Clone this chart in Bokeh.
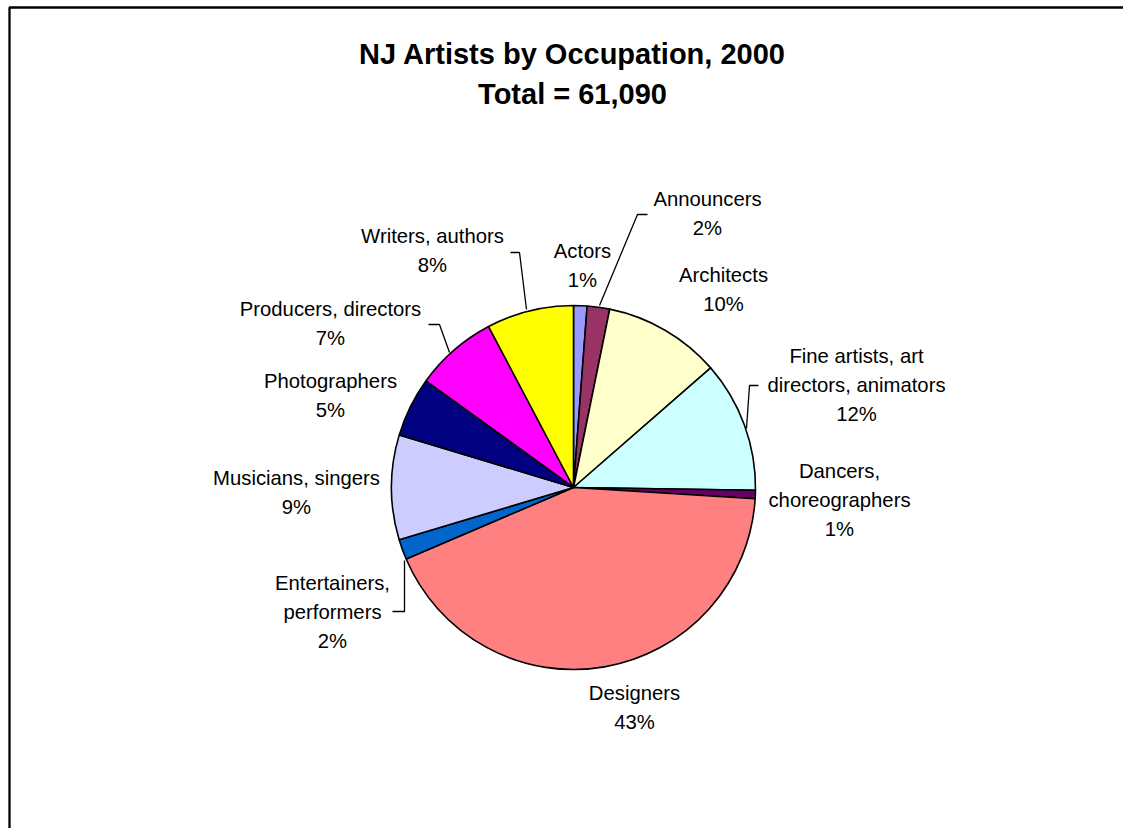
import math
from bokeh.plotting import figure
from bokeh.models import Range1d
from bokeh.core.properties import value
from bokeh.embed import file_html
from bokeh.resources import INLINE

# ---- data ----
title_lines = ["NJ Artists by Occupation, 2000", "Total = 61,090"]
occupations = ["Actors", "Announcers", "Architects",
               "Fine artists, art\ndirectors, animators",
               "Dancers,\nchoreographers", "Designers",
               "Entertainers,\nperformers", "Musicians, singers",
               "Photographers", "Producers, directors", "Writers, authors"]
counts = [730, 1220, 6350, 7120, 450, 26020, 1100, 5680, 3240, 4460, 4720]
colors = ["#9999FF", "#993366", "#FFFFCC", "#CCFFFF", "#660066", "#FF8080",
          "#0066CC", "#CCCCFF", "#000080", "#FF00FF", "#FFFF00"]

# ---- layout (picture pixel coordinates of the first line centre of each label) ----
label_pos = [(582, 250), (707, 198), (723, 274), (856, 355), (839, 470),
             (634, 692), (332, 582), (296, 477), (330, 380), (330, 308), (432, 235)]
leaders = [
    [(599, 305), (637, 214), (647, 214)],
    [(526, 309), (519, 252), (510, 252)],
    [(449, 352), (439, 324), (428, 324)],
    [(746, 428), (749, 385), (758, 385)],
    [(404, 560), (404, 611), (392, 611)],
]

W, H = 1123, 828
def dx(x): return x
def dy(y): return H - y

p = figure(width=W, height=H, output_backend="svg", toolbar_location=None,
           x_range=Range1d(0, W), y_range=Range1d(0, H),
           x_axis_type=None, y_axis_type=None, min_border=0)
p.grid.visible = False
p.outline_line_color = None
p.background_fill_color = "white"
p.border_fill_color = "white"

# frame (left and top edges only, as in the reference)
p.line([dx(9), dx(9), dx(W + 10)], [dy(H + 10), dy(7), dy(7)],
       line_color="black", line_width=2.3)

# pie
total = sum(counts)
cx, cy, r = dx(573), dy(487), 182
starts, ends = [], []
cum = 0.0
for c in counts:
    starts.append(math.pi / 2 - 2 * math.pi * cum / total)
    cum += c
    ends.append(math.pi / 2 - 2 * math.pi * cum / total)
p.wedge(x=[cx] * len(counts), y=[cy] * len(counts), radius=r,
        start_angle=starts, end_angle=ends, direction="clock",
        fill_color=colors, line_color="black", line_width=1.6)

# leader lines
for pts in leaders:
    p.line([dx(a) for a, b in pts], [dy(b) for a, b in pts], line_color="black", line_width=1.3)

# labels
xs, ys, texts = [], [], []
for name, c, (lx, ly) in zip(occupations, counts, label_pos):
    lines = name.split("\n") + ["%d%%" % round(100 * c / total)]
    for i, t in enumerate(lines):
        xs.append(dx(lx)); ys.append(dy(ly + 29 * i)); texts.append(t)
p.text(x=xs, y=ys, text=texts, text_align="center", text_baseline="middle",
       text_font=value("Liberation Sans"), text_font_size="20.3px", text_color="black")

# title
p.text(x=[dx(572), dx(572)], y=[dy(53), dy(93)], text=title_lines,
       text_align="center", text_baseline="middle",
       text_font=value("Liberation Sans"), text_font_size="29px",
       text_font_style="bold", text_color="black")

open("out.html", "w").write(file_html(p, INLINE))
